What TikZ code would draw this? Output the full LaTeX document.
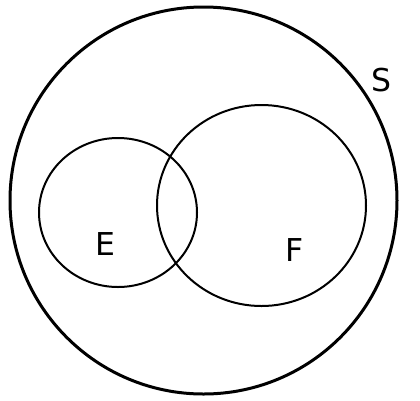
\documentclass[tikz,border=0pt]{standalone}
\usepackage{fontspec}
\setmainfont{DejaVu Sans}
\tikzset{
  vnset/.style={draw=black, line width=2pt},
  vnspace/.style={draw=black, line width=3pt},
  vnlabel/.style={font=\fontsize{31.5}{34}\selectfont, inner sep=0pt},
}

\begin{document}
\begin{tikzpicture}[x=1pt, y=-1pt]
\useasboundingbox (0,0) rectangle (420,400);

% Sample space.
\draw[vnspace] (203.5,200.5) circle [radius=193.5];
\node[vnlabel] (S) at (381,80.5) {S};

% The two events.
\draw[vnset] (118,212.5) ellipse [x radius=79, y radius=74.5];
\draw[vnset] (261.5,205.5) ellipse [x radius=104.5, y radius=100.5];
\node[vnlabel] (E) at (105.5,244.5) {E};
\node[vnlabel] (F) at (294.5,250) {F};

\end{tikzpicture}
\end{document}
